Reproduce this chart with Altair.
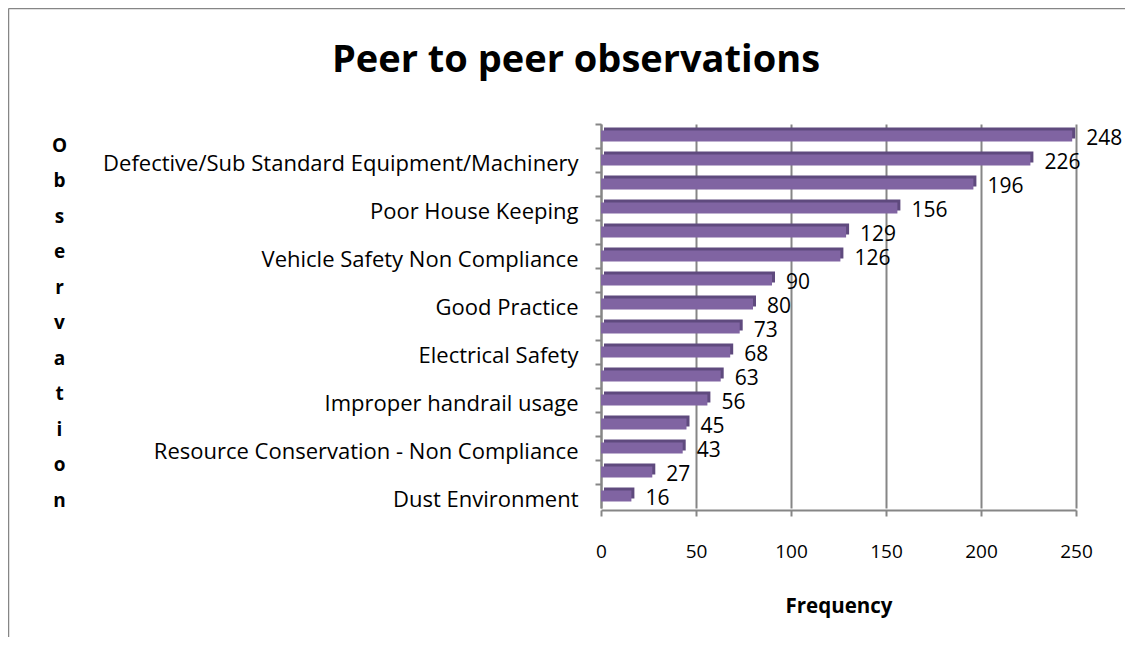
import json
import altair as alt
import pandas as pd

# ---- data ----
values = [248, 226, 196, 156, 129, 126, 90, 80, 73, 68, 63, 56, 45, 43, 27, 16]
labels = ["", "Defective/Sub Standard Equipment/Machinery", "", "Poor House Keeping",
          "", "Vehicle Safety Non Compliance", "", "Good Practice",
          "", "Electrical Safety", "", "Improper handrail usage",
          "", "Resource Conservation - Non Compliance", "", "Dust Environment"]
x_ticks = [0, 50, 100, 150, 200, 250]
title_text = "Peer to peer observations"
y_title = list("Observation")
x_title = "Frequency"

keys = [f"{i:02d}" for i in range(len(values))]
df = pd.DataFrame({"key": keys, "value": values})

FONT = "Open Sans"
W, H = 475, 384
PAD = {"left": 593, "top": 116, "right": 49, "bottom": 129}
BAR = "#8064A2"
BAR_DARK = "#5F4A7E"
GRAY = "#868686"

label_expr = json.dumps(labels) + "[toNumber(datum.value)]"

y_enc = alt.Y("key:N", sort=keys, scale=alt.Scale(paddingInner=0, paddingOuter=0),
              axis=alt.Axis(title=y_title, titleAngle=0, titleAlign="center",
                            titleBaseline="middle", titleX=-542, titleY=21,
                            titleLineHeight=35.5, titleFont=FONT, titleFontSize=19,
                            titleFontWeight="bold", titleColor="#000000",
                            labelExpr=label_expr, labelFont=FONT, labelFontSize=22,
                            labelColor="#000000", labelPadding=17, labelOffset=4,
                            labelLimit=0,
                            bandPosition=0, tickSize=6, tickColor=GRAY, tickWidth=2,
                            domainColor=GRAY, domainWidth=2, grid=False,
                            labelOverlap=False))

x_enc = alt.X("value:Q", scale=alt.Scale(domain=[0, 250], nice=False),
              axis=alt.Axis(values=x_ticks, title=x_title, titleFont=FONT,
                            titleFontSize=20.5, titleFontWeight="bold", titleColor="#000000",
                            titleBaseline="alphabetic", titleY=102,
                            labelFont=FONT, labelFontSize=19, labelColor="#000000",
                            labelBaseline="top", labelPadding=26, labelFlush=False,
                            tickSize=6,
                            tickColor=GRAY, tickWidth=2, domainColor=GRAY, domainWidth=2,
                            grid=True, gridColor=GRAY, gridWidth=2, offset=2))

base = alt.Chart(df)

shadow = base.mark_bar(size=11, color=BAR_DARK, xOffset=3, yOffset=-3).encode(y=y_enc, x=x_enc)
bars = base.mark_bar(size=11, color=BAR).encode(y=y_enc, x=x_enc)
texts = base.mark_text(align="left", baseline="middle", dx=14, dy=3, font=FONT,
                       fontSize=21, color="#000000").encode(
    y=y_enc, x=x_enc, text=alt.Text("value:Q"))

title_mark = alt.Chart(pd.DataFrame({"t": [title_text]})).mark_text(
    align="center", baseline="alphabetic", font=FONT, fontSize=38, fontWeight="bold",
    color="#000000").encode(x=alt.value(-25), y=alt.value(-52), text="t:N")

frame_left = alt.Chart(pd.DataFrame({"a": [0]})).mark_rule(color=GRAY, strokeWidth=1.5).encode(
    x=alt.value(-592.5), y=alt.value(-115.5), y2=alt.value(H + PAD["bottom"]))
frame_top = alt.Chart(pd.DataFrame({"a": [0]})).mark_rule(color=GRAY, strokeWidth=1.5).encode(
    x=alt.value(-592.5), x2=alt.value(W + PAD["right"]), y=alt.value(-115.5))

chart = alt.layer(shadow, bars, texts, title_mark, frame_left, frame_top).properties(
    width=W, height=H, padding=PAD, autosize=alt.AutoSizeParams(type="none"),
    background="#ffffff"
).configure_view(stroke=None)

chart.save("out.html", embed_options={"renderer": "svg", "actions": False})
